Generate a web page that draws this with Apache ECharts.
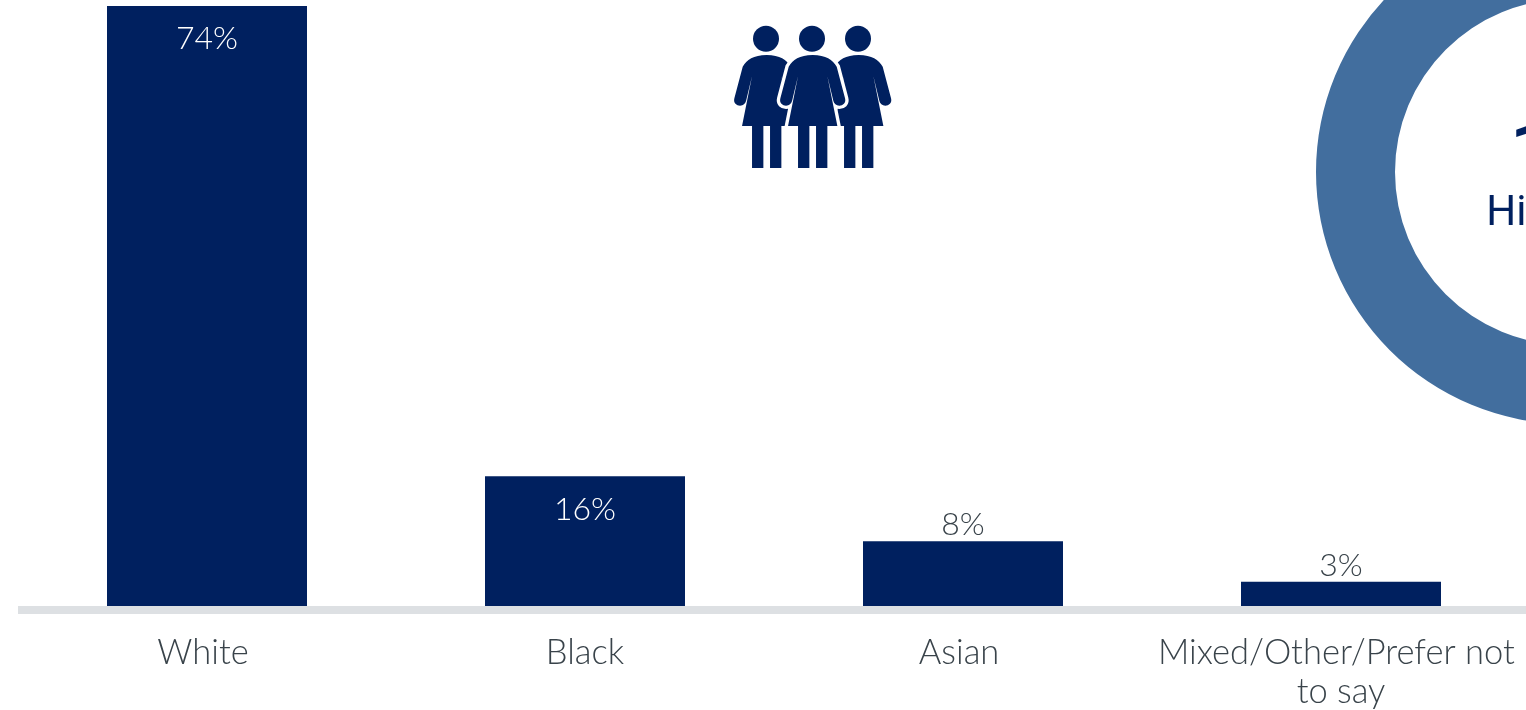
<!DOCTYPE html>
<html>
<head>
<meta charset="utf-8">
<style>html,body{margin:0;padding:0;background:#fff}#chart{width:1526px;height:710px}</style>
<script src="https://cdn.jsdelivr.net/npm/echarts@6/dist/echarts.min.js"></script>
</head>
<body>
<div id="chart"></div>
<script>
// Respondent ethnicity, percent of respondents
const categories = ['White', 'Black', 'Asian', 'Mixed/Other/Prefer not to say'];
const shares = [74, 16, 8, 3];
const insideLabelMin = 10;

// Hispanic ring: the ring is drawn as one closed band
const ringValues = [1];
const ringName = 'Hispanic';
const ringHeadline = '1';

const NAVY = '#00205f';
const TEXT = '#39434a';
const FONT = 'Lato, "Open Sans", sans-serif';

// Right padding that nudges individual category captions to the left
const captionNudge = [8, 0, 8, 0];

// One figure outline in local units, symmetric about x = 0
const figurePath =
  'M0 120 C40 120 60 135 72 155 L97 250 C101 265 90 272 80 272 C70 272 64 266 62 258 L44 183 L74 333 L44 333 L44 459 L10 459 L10 333 ' +
  'L-10 333 L-10 459 L-44 459 L-44 333 L-74 333 L-44 183 L-62 258 C-64 266 -70 272 -80 272 C-90 272 -101 265 -97 250 L-72 155 C-60 135 -40 120 0 120 Z';
echarts.graphic.registerShape('figureOutline', echarts.graphic.extendPath(figurePath, {}));

function figure(cx, halo) {
  const parts = [];
  const place = { x: cx + 0.7, y: 15, scaleX: 1 / 3, scaleY: 1 / 3 };
  if (halo) {
    parts.push({ type: 'figureOutline', ...place, silent: true,
      style: { fill: '#fff', stroke: '#fff', lineWidth: 20 } });
  }
  parts.push({ type: 'figureOutline', ...place, silent: true, style: { fill: NAVY } });
  parts.push({ type: 'circle', silent: true, shape: { cx: cx, cy: 38.7, r: 13 }, style: { fill: NAVY } });
  return parts;
}

const chart = echarts.init(document.getElementById('chart'), null, { renderer: 'canvas' });
chart.setOption({
  animation: false,
  backgroundColor: '#fff',
  grid: { left: 18, top: 6, width: 1512, height: 600, outerBoundsMode: 'none' },
  xAxis: {
    type: 'category',
    data: categories.map((name, i) => ({ value: name, textStyle: { padding: [0, captionNudge[i], 0, 0] } })),
    offset: 4,
    axisLine: { onZero: false, lineStyle: { color: '#dde0e3', width: 8, cap: 'butt' } },
    axisTick: { show: false },
    axisLabel: {
      color: TEXT, fontFamily: FONT, fontWeight: 300, fontSize: 34.5, margin: 23, lineHeight: 39,
      width: 372, overflow: 'break', interval: 0
    }
  },
  yAxis: { type: 'value', min: 0, max: 74, show: false },
  series: [
    {
      type: 'pie',
      silent: true,
      center: [1568, 172],
      radius: [173, 252],
      label: { show: false },
      labelLine: { show: false },
      itemStyle: { color: '#426e9e' },
      data: ringValues.map(v => ({ name: ringName, value: v }))
    },
    {
      type: 'bar',
      barWidth: 200,
      itemStyle: { color: NAVY },
      data: shares.map(v => ({
        value: v,
        label: {
          show: true,
          formatter: '{c}%',
          fontFamily: FONT,
          fontWeight: 300,
          fontSize: 32,
          color: v >= insideLabelMin ? '#fff' : TEXT,
          position: v >= insideLabelMin ? 'insideTop' : 'top',
          distance: v >= insideLabelMin ? 17 : 0
        }
      }))
    }
  ],
  graphic: [
    ...figure(766, false),
    ...figure(858, false),
    ...figure(812, true),
    { type: 'text', silent: true, x: 1511, y: 153, style: { text: ringHeadline, verticalAlign: 'middle', fill: NAVY, font: '700 64px Roboto, sans-serif' } },
    { type: 'text', silent: true, x: 1568, y: 214, style: { text: ringName, align: 'center', verticalAlign: 'middle', fill: NAVY, font: '400 42px Roboto, sans-serif' } }
  ]
});
</script>
</body>
</html>
